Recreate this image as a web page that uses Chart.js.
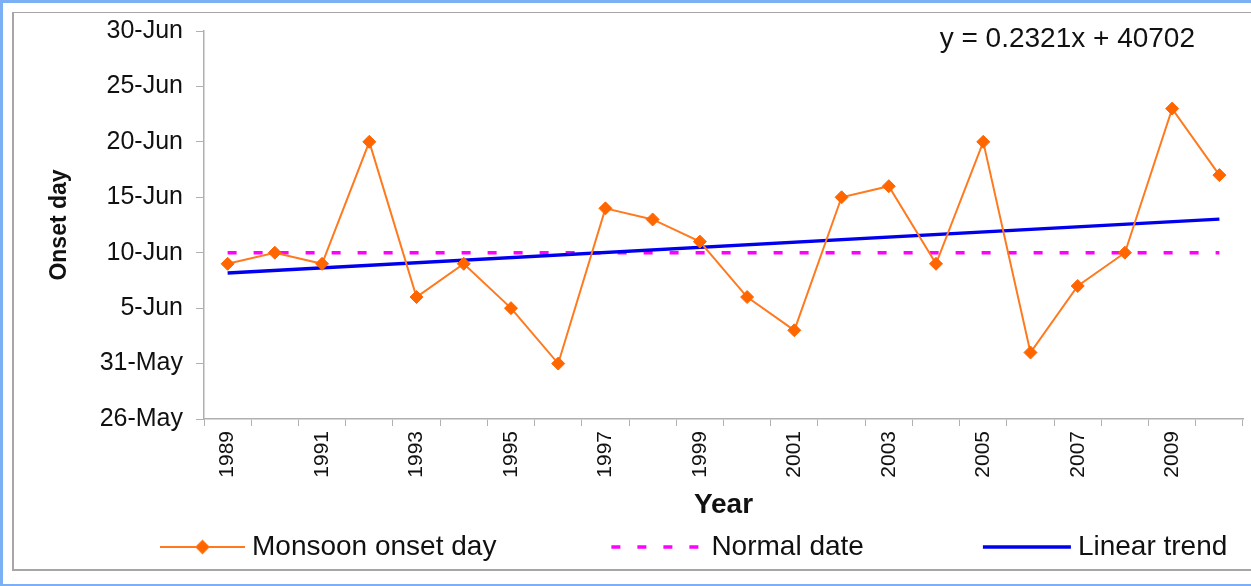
<!DOCTYPE html>
<html>
<head>
<meta charset="utf-8">
<title>Monsoon onset day</title>
<script src="https://cdn.jsdelivr.net/npm/chart.js@4.4.1/dist/chart.umd.min.js"></script>
<style>
  html, body { margin: 0; padding: 0; width: 1251px; height: 586px; overflow: hidden; background: #7cb0f6; }
  .sheet { position: absolute; left: 3px; top: 3px; right: 0; bottom: 2px; background: #fff; }
  .frame { position: absolute; left: 12px; top: 12px; width: 1260px; height: 556px;
           border-left: 2px solid #a6a6a6; border-top: 1px solid #a6a6a6; border-bottom: 2px solid #a6a6a6; }
  .holder { position: absolute; left: 14px; top: 14px; width: 1237px; height: 555px; }
</style>
</head>
<body>
<div class="sheet"></div>
<div class="frame"></div>
<div class="holder"><canvas id="onsetChart"></canvas></div>
<script>
// years on the x axis
const years = ['1989', '1990', '1991', '1992', '1993', '1994', '1995', '1996', '1997', '1998', '1999',
               '2000', '2001', '2002', '2003', '2004', '2005', '2006', '2007', '2008', '2009', '2010'];

// onset day, counted as day of June (0 = 31 May, -5 = 26 May)
const onsetDay = [9, 10, 9, 20, 6, 9, 5, 0, 14, 13, 11, 6, 3, 15, 16, 9, 20, 1, 7, 10, 23, 17];

// normal onset date: 10 June
const normalDay = [10, 10, 10, 10, 10, 10, 10, 10, 10, 10, 10, 10, 10, 10, 10, 10, 10, 10, 10, 10, 10, 10];

// trend line read at first and last year
const trendDay = [8.16, null, null, null, null, null, null, null, null, null, null,
                  null, null, null, null, null, null, null, null, null, null, 13.03];

const equationText = 'y = 0.2321x + 40702';
const FONT = '"Liberation Sans", Arial, sans-serif';

const dayLabel = (d) => d <= 0 ? (31 + d) + '-May' : d + '-Jun';

// text that sits inside the plot, top right
const equationPlugin = {
  id: 'equation',
  afterDraw(chart) {
    const { ctx, chartArea } = chart;
    ctx.save();
    ctx.font = '28px ' + FONT;
    ctx.fillStyle = '#111';
    ctx.textAlign = 'right';
    ctx.textBaseline = 'middle';
    ctx.fillText(equationText, chartArea.right - 48, chartArea.top + 8);
    ctx.restore();
  }
};

// Excel-style legend with line samples under the axis title
const lineLegendPlugin = {
  id: 'lineLegend',
  afterDraw(chart) {
    const { ctx } = chart;
    const y = chart.height - 22;
    const sampleW = [85, 93, 88];
    const gaps = [115, 119, 0];
    let x = 146;
    ctx.save();
    ctx.font = '28px ' + FONT;
    ctx.textBaseline = 'middle';
    chart.data.datasets.forEach((ds, i) => {
      ctx.strokeStyle = ds.borderColor;
      ctx.lineWidth = ds.borderWidth;
      ctx.setLineDash(ds.borderDash || []);
      ctx.beginPath();
      ctx.moveTo(x, y);
      ctx.lineTo(x + sampleW[i], y);
      ctx.stroke();
      ctx.setLineDash([]);
      if (ds.pointRadius > 0) {
        Chart.helpers.drawPoint(ctx, {
          pointStyle: ds.pointStyle, radius: 6, borderWidth: 1
        }, x + sampleW[i] / 2, y);
        ctx.fillStyle = ds.pointBackgroundColor;
        ctx.fill();
      }
      const tx = x + sampleW[i] + 7;
      ctx.fillStyle = '#111';
      ctx.fillText(ds.label, tx, y);
      x = tx + ctx.measureText(ds.label).width + gaps[i];
    });
    ctx.restore();
  }
};

new Chart(document.getElementById('onsetChart'), {
  type: 'line',
  data: {
    labels: years,
    datasets: [
      {
        label: 'Monsoon onset day',
        data: onsetDay,
        borderColor: '#ff7a1f',
        borderWidth: 2,
        pointStyle: 'rectRot',
        pointRadius: 6.5,
        pointBackgroundColor: '#ff6600',
        pointBorderColor: '#ff6600',
        pointBorderWidth: 1,
        tension: 0,
        order: 1
      },
      {
        label: 'Normal date',
        data: normalDay,
        borderColor: '#ff00ff',
        borderWidth: 3.5,
        borderDash: [9, 17],
        pointRadius: 0,
        order: 3
      },
      {
        label: 'Linear trend',
        data: trendDay,
        borderColor: '#0000ee',
        borderWidth: 3.5,
        pointRadius: 0,
        spanGaps: true,
        order: 2
      }
    ]
  },
  options: {
    responsive: true,
    maintainAspectRatio: false,
    animation: false,
    layout: { padding: { top: 17, right: 8, bottom: 50, left: 0 } },
    plugins: {
      legend: { display: false },
      tooltip: { enabled: false }
    },
    scales: {
      x: {
        type: 'category',
        offset: true,
        grid: { offset: true, drawOnChartArea: false, drawTicks: true, tickLength: 7, color: '#b0b0b0' },
        border: { display: true, color: '#b0b0b0', width: 1.5 },
        ticks: {
          autoSkip: false,
          maxRotation: 90,
          minRotation: 90,
          padding: 5,
          color: '#111',
          font: { family: FONT, size: 21 },
          callback: (v, i) => i % 2 === 0 ? years[i] : ''
        },
        title: {
          display: true,
          text: 'Year',
          color: '#111',
          padding: 0,
          font: { family: FONT, size: 28, weight: 'bold', lineHeight: 1 }
        },
        afterFit: (scale) => { scale.height = 100; }
      },
      y: {
        min: -5,
        max: 30,
        grid: { drawOnChartArea: false, drawTicks: true, tickLength: 8, color: '#b0b0b0' },
        border: { display: true, color: '#b0b0b0', width: 1.5 },
        ticks: {
          stepSize: 5,
          padding: 13,
          color: '#111',
          font: { family: FONT, size: 25 },
          callback: (v) => dayLabel(v)
        },
        title: {
          display: true,
          text: 'Onset day',
          color: '#111',
          padding: { top: 32, bottom: 0 },
          font: { family: FONT, size: 23, weight: 'bold', lineHeight: 1.2 }
        },
        afterFit: (scale) => {
          scale.width = 190;
          scale.paddingTop = 0;
          scale.paddingBottom = 0;
        }
      }
    }
  },
  plugins: [equationPlugin, lineLegendPlugin]
});
</script>
</body>
</html>
